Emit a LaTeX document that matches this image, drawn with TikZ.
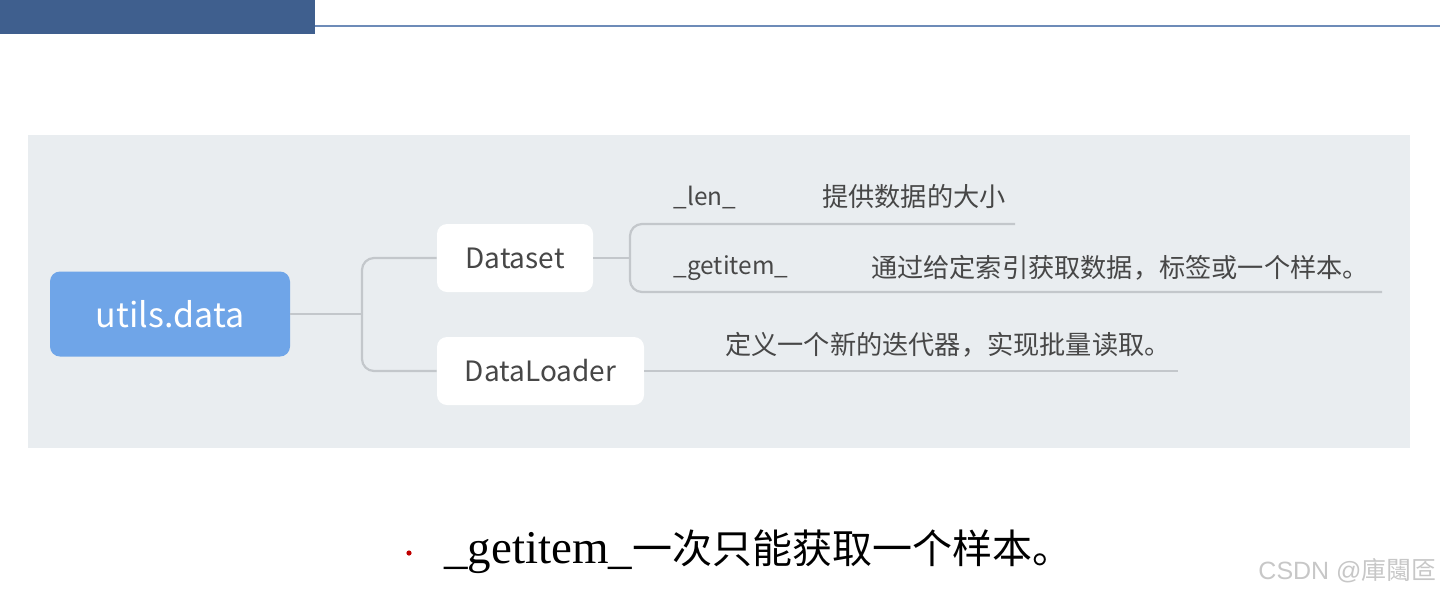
\documentclass[tikz,border=0pt]{standalone}
\usepackage{fontspec}
\usepackage{tikz}
\usetikzlibrary{positioning, backgrounds}
\setmainfont{Liberation Serif}
\newfontfamily\cjk{Noto Sans CJK SC}
\newfontfamily\marksans{Liberation Sans}
\definecolor{barblue}{HTML}{3F5F8E}
\definecolor{lineblue}{HTML}{6D8BB8}
\definecolor{panel}{HTML}{E9EDF0}
\definecolor{rootblue}{HTML}{6FA5E8}
\definecolor{linkgray}{HTML}{C3C7CB}
\definecolor{txtgray}{HTML}{474747}

\begin{document}
\begin{tikzpicture}[x=0.5pt, y=-0.5pt,
    root/.style={fill=rootblue, rounded corners=5pt, text=white, font=\cjk\fontsize{17}{20}\selectfont,
                 minimum width=120pt, minimum height=42.5pt, inner sep=0pt},
    topic/.style={fill=white, rounded corners=5pt, text=txtgray, font=\cjk\fontsize{14}{16}\selectfont,
                  minimum height=34pt, inner sep=0pt},
    key/.style={text=txtgray, font=\cjk\fontsize{12.2}{15}\selectfont, inner sep=0pt},
    desc/.style={text=txtgray, font=\cjk\fontsize{13.1}{15}\selectfont, inner sep=0pt},
    link/.style={draw=linkgray, line width=1.1pt, rounded corners=6pt}]
  \useasboundingbox (0,0) rectangle (1440,596);
  % header bar
  \fill[barblue] (0,0) rectangle (315,34);
  \draw[lineblue, line width=1pt] (315,26) -- (1440,26);
  % panel
  \fill[panel] (28,135) rectangle (1410,448);

  \node[root] (utils) at (170,314) {utils.data};
  \node[topic, minimum width=78pt]    (ds) at (515,258) {Dataset};
  \node[topic, minimum width=103.5pt] (dl) at (540.5,371) {DataLoader};

  \node[key]  (lenkey)  at (705,197) {\_len\_};
  \node[desc] (lendesc) at (914,197) {提供数据的大小};
  \node[key]  (getkey)  at (731,268) {\_getitem\_};
  \node[desc] (getdesc) at (1120,268) {通过给定索引获取数据，标签或一个样本。};
  \node[desc] (dldesc)  at (948,345) {定义一个新的迭代器，实现批量读取。};

  \coordinate (fork1) at (362,314);
  \coordinate (fork2) at (630,258);
  \coordinate (lenend) at (1015,224);
  \coordinate (getend) at (1382,292);
  \coordinate (dlend)  at (1178,371);

  \draw[link] (utils.east) -- (fork1);
  \draw[link] (fork1) |- (ds.west);
  \draw[link] (fork1) |- (dl.west);
  \draw[link] (ds.east) -- (fork2);
  \draw[link] (fork2) |- (lenend);
  \draw[link] (fork2) |- (getend);
  \draw[link] (dl.east) -- (dlend);

  % bullet line
  \fill[red!75!black] (409,553) circle (1.3pt);
  \node[anchor=west, inner sep=0pt, font=\fontsize{23.5}{26}\selectfont] (note) at (444,552)
    {\_getitem\_{\cjk\fontsize{20}{24}\selectfont 一次只能获取一个样本。}};
  \node[anchor=east, inner sep=0pt, text=black!22, font=\marksans\fontsize{12.5}{14}\selectfont] (mark) at (1437,571)
    {CSDN @{\cjk 庫闧匼}};
\end{tikzpicture}
\end{document}
